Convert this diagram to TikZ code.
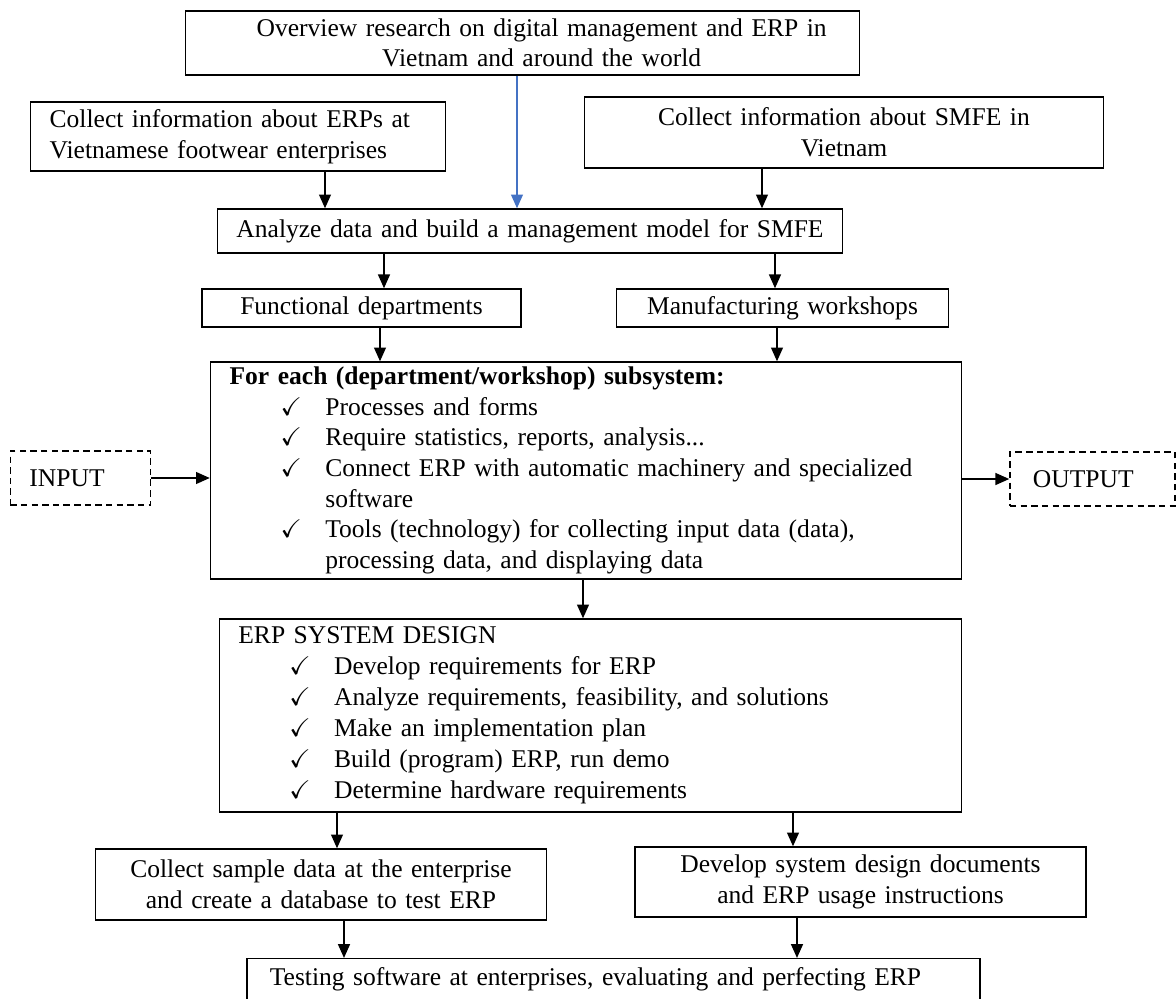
\documentclass[tikz,border=0pt]{standalone}
\usepackage{fontspec}
\setmainfont{Liberation Serif}
\usepackage{amssymb}
\usetikzlibrary{calc,arrows.meta}

\definecolor{arrblue}{HTML}{4472C4}
\hyphenpenalty=10000
\newcommand{\tick}[1]{\par\hangindent=45pt\hangafter=1\hspace*{24pt}\makebox[21pt][l]{$\checkmark$}#1\par}

\begin{document}
\begin{tikzpicture}[x=0.47pt,y=-0.47pt,
	box/.style={draw,line width=0.6pt,inner sep=0,minimum height=#1,font=\fontsize{12}{14.4}\selectfont},
	box/.default=17.9pt,
	dbox/.style={draw,line width=0.6pt,dash pattern=on 3pt off 2pt,inner ysep=0,minimum height=25.4pt,align=left,font=\fontsize{12}{14}\selectfont},
	listbox/.style={draw,line width=0.6pt,inner xsep=9pt,inner ysep=0,minimum height=#1,align=left},
	arr/.style={->,line width=1pt}]
	\tikzset{>={Triangle[length=6.5pt,width=5.5pt]}}
	\useasboundingbox (0,0) rectangle (1176,999);
	\node [box=30.1pt,text width=317pt,align=center] (ovr) at (522.5,43) {\hspace*{18pt}Overview research on digital management and ERP in\\\hspace*{18pt}Vietnam and around the world};
	\node [box=32.4pt,text width=177pt,align=left,inner xsep=9pt] (erpinfo) at ($(ovr) + (-284.5,93.5)$) {Collect information about ERPs at\\Vietnamese footwear enterprises};
	\node [box=33.4pt,text width=244pt,align=center] (smfe) at ($(ovr) + (321.5,89.5)$) {Collect information about SMFE in\\Vietnam};
	\node [box=20.7pt,text width=294pt,align=center] (analyze) at ($(ovr) + (7.5,188)$) {Analyze data and build a management model for SMFE};
	\node [box,text width=150pt,align=center] (func) at ($(analyze) + (-168.5,77)$) {Functional departments};
	\node [box,text width=156pt,align=center] (manu) at ($(func) + (421,0)$) {Manufacturing workshops};
	\node [listbox=102pt,text width=335pt,font=\fontsize{12}{14.4}\selectfont] (sub) at ($(analyze) + (56,239.5)$) {\textbf{For each (department/workshop) subsystem:}
		\tick{Processes and forms}
		\tick{Require statistics, reports, analysis...}
		\tick{Connect ERP with automatic machinery and specialized\newline software}
		\tick{Tools (technology) for collecting input data (data),\newline processing data, and displaying data}};
	\node [dbox,inner xsep=9pt,text width=48pt] (input) at ($(sub) + (-505.5,7.5)$) {INPUT};
	\node [dbox,inner xsep=10.8pt,text width=56pt] (output) at ($(sub) + (506.5,8.5)$) {OUTPUT};
	\node [listbox=90.7pt,text width=331pt,font=\fontsize{12}{14.6}\selectfont] (design) at ($(sub) + (4.5,245)$) {ERP SYSTEM DESIGN
		\tick{Develop requirements for ERP}
		\tick{Analyze requirements, feasibility, and solutions}
		\tick{Make an implementation plan}
		\tick{Build (program) ERP, run demo}
		\tick{Determine hardware requirements}};
	\node [box=33.4pt,text width=212pt,align=center] (sample) at ($(design) + (-269.5,169)$) {Collect sample data at the enterprise\\and create a database to test ERP};
	\node [box=32.9pt,text width=212pt,align=center] (docs) at ($(design) + (270,166.5)$) {Develop system design documents\\and ERP usage instructions};
	\node [box=19.7pt,anchor=north,text width=323pt,align=left,inner xsep=10.8pt] (test) at ($(design) + (23,242.5)$) {Testing software at enterprises, evaluating and perfecting ERP};

	\draw [arr] (erpinfo.south) ++(87,0) coordinate (a1) -- (a1 |- analyze.north);
	\draw [arr,arrblue] (ovr.south) ++(-5.5,0) coordinate (a2) -- (a2 |- analyze.north);
	\draw [arr] (smfe.south) ++(-82,0) coordinate (a3) -- (a3 |- analyze.north);
	\draw [arr] (analyze.south) ++(-146,0) coordinate (a4) -- (a4 |- func.north);
	\draw [arr] (analyze.south) ++(245,0) coordinate (a5) -- (a5 |- manu.north);
	\draw [arr] (func.south) ++(18.5,0) coordinate (a6) -- (a6 |- sub.north);
	\draw [arr] (manu.south) ++(-5.5,0) coordinate (a7) -- (a7 |- sub.north);
	\draw [arr] (input) -- (input -| sub.west);
	\draw [arr] (output -| sub.east) -- (output);
	\draw [arr] (sub.south) ++(-3,0) coordinate (a8) -- (a8 |- design.north);
	\draw [arr] (design.south) ++(-253.5,0) coordinate (a9) -- (a9 |- sample.north);
	\draw [arr] (design.south) ++(202.5,0) coordinate (a10) -- (a10 |- docs.north);
	\draw [arr] (sample.south) ++(23,0) coordinate (a11) -- (a11 |- test.north);
	\draw [arr] (docs.south) ++(-63.5,0) coordinate (a12) -- (a12 |- test.north);
\end{tikzpicture}
\end{document}
